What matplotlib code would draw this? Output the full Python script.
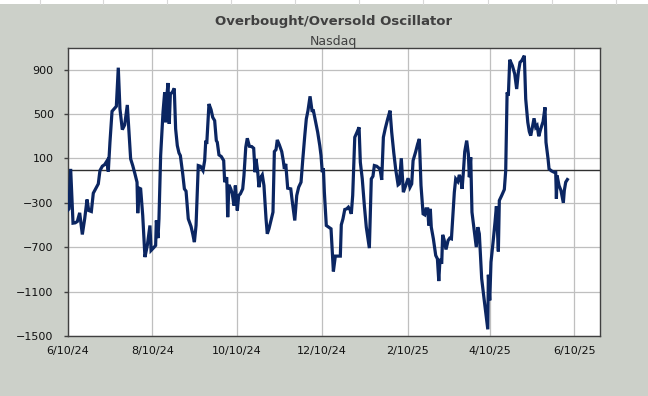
import matplotlib
matplotlib.use("Agg")
import matplotlib.pyplot as plt
from matplotlib.patches import Rectangle
import pandas as pd

# oscillator readings, x given as days after 6/10/24
start_date = "2024-06-10"
day_offsets = [
    0, 1.0, 2.2, 3.9, 5.5, 7.0, 8.7, 10.6, 12.3, 14.0, 15.2, 17.1, 18.5, 20.2, 22.1, 23.3,
    25.0, 26.7, 28.2, 29.3, 30.5, 32.0, 33.4, 35.1, 36.5, 37.7, 39.4, 41.1, 43.0, 44.2, 45.4,
    46.9, 48.5, 50.0, 50.5, 51.6,
    52.6, 54.1, 55.7, 57.4, 59.3, 60.1, 61.7, 63.4, 63.9, 65.1, 65.8, 67.0, 68.7, 69.9, 70.6,
    71.6, 72.3, 73.2, 74.0, 75.4, 76.8, 77.8, 79.0, 80.2, 81.2, 82.9, 84.1, 85.3, 86.0, 86.9,
    88.9, 90.1, 91.3, 92.5, 94.1, 95.6, 97.5, 98.7, 99.5, 100.2, 101.8, 103.3, 104.5, 105.9,
    107.1, 107.8, 109.0, 110.7, 112.4, 113.1,
    114.6, 115.3, 116.2, 117.5, 118.6, 119.8, 120.8, 122.2, 123.2, 124.4, 126.1, 127.0, 128.3,
    129.4, 130.9, 132.6, 134.0, 135.0, 135.7, 136.9, 137.8, 138.8, 140.2, 141.4, 142.9, 143.8,
    145.0, 147.0, 147.9, 148.9, 150.1, 151.0, 152.5, 154.2, 155.3, 156.1, 157.1, 158.5, 160.7,
    161.8, 163.6, 165.0, 166.4, 168.1, 169.3, 170.8, 171.9, 173.1, 174.6,
    176.0, 177.0, 178.7, 180.1, 181.6, 182.5, 183.4, 184.2, 184.9, 186.3, 188.0, 189.7, 191.4,
    192.8, 194.5, 196.4, 197.1, 198.3, 199.6, 201.0, 202.2, 203.4, 204.3, 205.3, 206.8, 208.4,
    209.9, 210.8, 212.2, 213.7, 215.1, 217.3, 218.7, 219.9, 220.9, 222.6, 224.3, 225.0, 226.2,
    227.4, 228.8, 230.5, 232.2,
    233.4, 234.9, 236.3, 238.0, 238.9, 240.3, 241.8, 243.5, 245.2, 246.6, 247.8, 248.8, 250.7,
    252.1, 253.3, 254.5, 256.0, 257.2, 258.1, 259.3, 260.1, 261.2, 261.9, 263.4, 265.1, 266.3,
    267.3, 268.2, 269.4, 270.1, 271.1, 272.5, 274.0, 275.2, 276.4, 277.6, 278.5, 279.5, 281.0,
    282.1, 283.1, 284.1, 285.0, 286.0, 287.4, 288.6, 289.3, 290.3, 291.2, 292.7, 294.3, 295.4,
    296.5,
    298.2, 299.9, 302.6, 303.0, 304.0, 304.9, 306.4, 307.8, 308.8, 310.2, 310.9, 312.6, 314.5,
    315.5, 316.5, 317.4, 318.4, 320.3, 322.0, 323.4, 324.6, 325.8, 327.0, 328.9, 329.9, 331.4,
    332.5, 333.5, 334.7, 335.9, 337.1, 338.1, 339.3, 340.7, 342.4, 343.8, 344.5, 346.0, 346.7,
    348.4, 350.3, 351.5, 352.0, 352.5, 353.9, 355.3, 357.0, 357.7, 358.7, 359.9,
]
osc_values = [
    -369, -354, 6, -483, -480, -468, -390, -585, -444, -270, -369, -378, -213, -174, -129, -9,
    30, 45, 75, -18, 246, 525, 546, 570, 918, 546, 360, 402, 582, 336, 96,
    36, -39, -114, -393, -168,
    -174, -414, -789, -684, -504, -729, -708, -684, -459, -618, -444, 126, 516, 696, 426,
    681, 780, 411, 681, 696, 732, 366, 216, 150, 126, -39, -174, -195, -309, -444,
    -513, -579, -654, -504, 36, 30, -9, 81, 261, 231, 591, 540, 471, 441,
    261, 246, 132, 117, 81, -114,
    -69, -429, -138, -174, -219, -324, -144, -369, -234, -219, -174, -54, 201,
    282, 210, 207, 192, -24, 96, -18, -159, -78, -48, -144, -444, -579,
    -534, -429, -384, 162, 180, 267, 222, 162, 81, 6, 51, -168, -174,
    -288, -459, -234, -159, -114, 81, 306, 456, 531, 660,
    531, 531, 426, 336, 216, 126, -24, 12, -204, -504, -519, -534, -918,
    -780, -780, -780, -498, -444, -360, -354, -339, -363, -399, -234, 291, 336,
    381, 66, -84, -324, -519, -708, -84, -60, 36, 30, 12, 6, -93,
    291, 372, 456, 531,
    336, 150, 0, -138, -129, 102, -204, -144, -78, -159, -129, 81, 162,
    231, 276, -144, -399, -408, -354, -354, -504, -354, -519, -624, -774, -804,
    -1005, -804, -849, -588, -630, -720, -639, -618, -624, -384, -204, -84, -108,
    -48, -84, -174, -24, 162, 261, 141, -69, 111, -384, -534, -699, -519,
    -579,
    -984, -1164, -1440, -948, -1179, -834, -654, -474, -330, -738, -279, -234, -180,
    -9, 696, 666, 990, 936, 861, 726, 876, 966, 981, 1026, 636, 426,
    342, 306, 381, 462, 381, 396, 300, 366, 432, 561, 246, 96, 6,
    -12, -24, -24, -264, -54, -144, -189, -300, -189, -114, -90,
]

tick_dates = ["2024-06-10", "2024-08-10", "2024-10-10", "2024-12-10",
              "2025-02-10", "2025-04-10", "2025-06-10"]
tick_labels = ["6/10/24", "8/10/24", "10/10/24", "12/10/24", "2/10/25", "4/10/25", "6/10/25"]
y_ticks = [-1500, -1100, -700, -300, 100, 500, 900]

bg = "#ccd0c9"
line_color = "#0b2662"

t0 = pd.Timestamp(start_date)
dates = t0 + pd.to_timedelta(day_offsets, unit="D")

fig = plt.figure(figsize=(6.48, 3.96), dpi=100, facecolor=bg)

# strip of spreadsheet cells peeking above the chart
fig.patches.append(Rectangle((0, 1 - 4 / 396), 1, 4 / 396, transform=fig.transFigure,
                             facecolor="white", edgecolor="none", zorder=0))
for cx in [40, 103, 167, 231, 295, 359, 423, 488, 552, 616]:
    fig.add_artist(plt.Line2D([cx / 648, cx / 648], [1 - 4 / 396, 1],
                              transform=fig.transFigure, color="#d8d8d8", lw=0.8))

ax = fig.add_axes([67.6 / 648, 1 - 336 / 396, (600 - 67.6) / 648, (336 - 47.5) / 396])
ax.set_facecolor("white")

ax.plot(dates, osc_values, color=line_color, lw=2.3, solid_joinstyle="miter", zorder=3)
ax.axhline(0, color="#303030", lw=1.0, zorder=2)

ax.set_ylim(-1500, 1100)
ax.set_xlim(t0, t0 + pd.Timedelta(days=383.4))
ax.set_yticks(y_ticks)
ax.set_xticks(pd.to_datetime(tick_dates))
ax.set_xticklabels(tick_labels)
ax.grid(True, color="#bfbfbf", lw=0.9, zorder=1)
ax.set_axisbelow(True)

ax.tick_params(axis="both", labelsize=8, colors="#111111")
ax.tick_params(axis="y", length=3, width=1.0, color="#404040", pad=7)
ax.tick_params(axis="x", length=0, pad=7)
for sp in ax.spines.values():
    sp.set_color("#404040")
    sp.set_linewidth(1.0)

title_x = (67.6 + 600) / 2 / 648
fig.text(title_x, 1 - 22 / 396, "Overbought/Oversold Oscillator",
         ha="center", va="center", fontsize=9.5, fontweight="bold", color="#404040")
fig.text(title_x, 1 - 41 / 396, "Nasdaq",
         ha="center", va="center", fontsize=9, color="#404040")

fig.savefig("out.png", dpi=100, facecolor=bg)
